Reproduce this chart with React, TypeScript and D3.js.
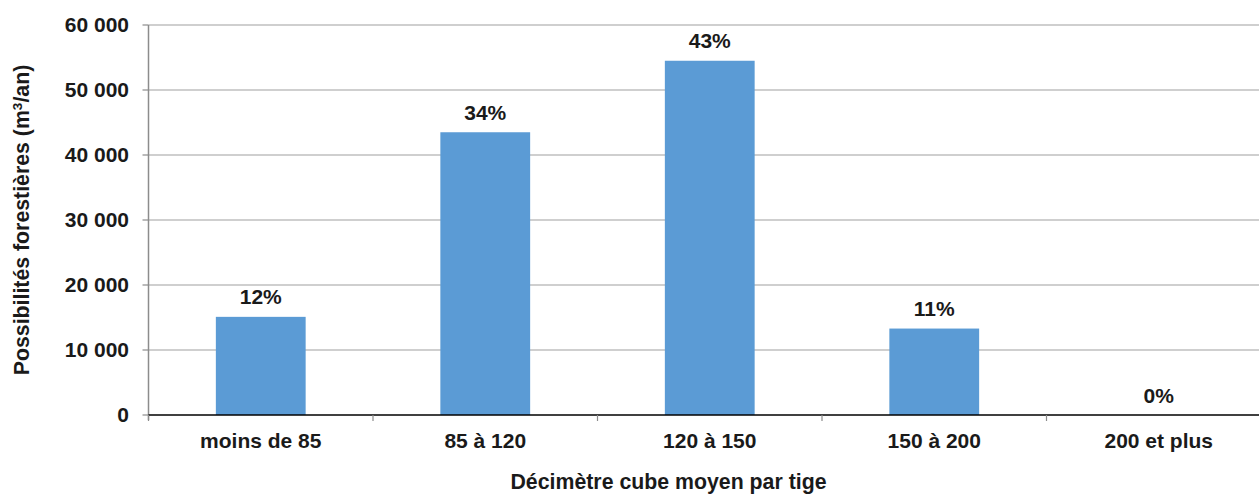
import React, { useEffect, useRef } from "react";
import * as d3 from "d3";

const categories = ["moins de 85", "85 à 120", "120 à 150", "150 à 200", "200 et plus"];
const values = [15100, 43500, 54500, 13300, 0];
const percentLabels = ["12%", "34%", "43%", "11%", "0%"];
const yTicks = [0, 10000, 20000, 30000, 40000, 50000, 60000];

const W = 1259, H = 494;
const M = { left: 148.5, right: -12, top: 25, bottom: 79 };
const FS = 21;
const FT = 21.3;

export default function App() {
  const ref = useRef<SVGSVGElement>(null);
  useEffect(() => {
    const svg = d3.select(ref.current);
    svg.selectAll("*").remove();
    const font = "'Liberation Sans', Arial, sans-serif";
    const x = d3.scaleBand<string>().domain(categories).range([M.left, W - M.right]).paddingInner(0).paddingOuter(0);
    const y = d3.scaleLinear().domain([0, 60000]).range([H - M.bottom, M.top]);
    const fmt = (v: number) => d3.format(",")(v).replace(/,/g, " ");

    // gridlines
    svg.append("g").selectAll("line").data(yTicks.filter(t => t > 0)).join("line")
      .attr("x1", M.left).attr("x2", W - M.right)
      .attr("y1", d => y(d)).attr("y2", d => y(d))
      .attr("stroke", "#a0a0a0").attr("stroke-width", 1.2);

    // y axis line + ticks
    svg.append("line").attr("x1", M.left).attr("x2", M.left).attr("y1", y(60000)).attr("y2", y(0) + 5)
      .attr("stroke", "#8c8c8c").attr("stroke-width", 1.5);
    svg.append("g").selectAll("line").data(yTicks).join("line")
      .attr("x1", M.left - 6).attr("x2", M.left).attr("y1", d => y(d)).attr("y2", d => y(d))
      .attr("stroke", "#8c8c8c").attr("stroke-width", 1.2);
    svg.append("g").selectAll("text").data(yTicks).join("text")
      .attr("x", 129).attr("y", d => y(d)).attr("dy", "0.35em")
      .attr("text-anchor", "end").attr("font-family", font).attr("font-weight", "bold")
      .attr("font-size", FS).attr("fill", "#1a1a1a").text(d => fmt(d));

    // bars
    const bw = x.bandwidth() * 0.4;
    svg.append("g").selectAll("rect").data(values).join("rect")
      .attr("x", (_, i) => x(categories[i])! + (x.bandwidth() - bw) / 2)
      .attr("width", bw)
      .attr("y", d => y(d)).attr("height", d => y(0) - y(d))
      .attr("fill", "#5b9bd5");

    // percent labels
    svg.append("g").selectAll("text").data(values).join("text")
      .attr("x", (_, i) => x(categories[i])! + x.bandwidth() / 2)
      .attr("y", d => y(d) - 12.5)
      .attr("text-anchor", "middle").attr("font-family", font).attr("font-weight", "bold")
      .attr("font-size", FS).attr("fill", "#1a1a1a").text((_, i) => percentLabels[i]);

    // x axis line
    svg.append("line").attr("x1", M.left).attr("x2", W - M.right).attr("y1", y(0)).attr("y2", y(0))
      .attr("stroke", "#000").attr("stroke-width", 1.5);
    const bounds = categories.map(c => x(c)!).concat([W - M.right]);
    svg.append("g").selectAll("line").data(bounds).join("line")
      .attr("x1", d => d).attr("x2", d => d).attr("y1", y(0)).attr("y2", y(0) + 6)
      .attr("stroke", "#8c8c8c").attr("stroke-width", 1.2);
    svg.append("g").selectAll("text").data(categories).join("text")
      .attr("x", d => x(d)! + x.bandwidth() / 2).attr("y", 447.5)
      .attr("text-anchor", "middle").attr("font-family", font).attr("font-weight", "bold")
      .attr("font-size", FS).attr("fill", "#1a1a1a").text(d => d);

    // axis titles
    svg.append("text").attr("x", 668.5).attr("y", 489).attr("text-anchor", "middle")
      .attr("font-family", font).attr("font-weight", "bold").attr("font-size", FT).attr("fill", "#1a1a1a")
      .text("Décimètre cube moyen par tige");
    const yt = svg.append("text").attr("transform", "translate(29,220) rotate(-90)").attr("text-anchor", "middle")
      .attr("font-family", font).attr("font-weight", "bold").attr("font-size", FT).attr("fill", "#1a1a1a");
    yt.append("tspan").text("Possibilités forestières (m");
    yt.append("tspan").attr("baseline-shift", "super").attr("font-size", 13.5).text("3");
    yt.append("tspan").text("/an)");
  }, []);
  return (
    <svg ref={ref} width={W} height={H} style={{ position: "absolute", left: 0, top: 0, background: "#fff" }} />
  );
}
